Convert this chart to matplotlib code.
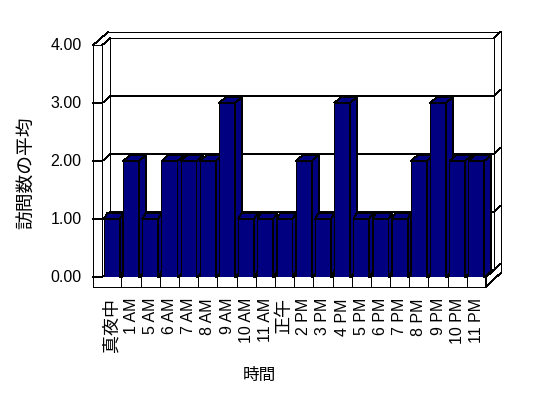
import matplotlib
matplotlib.use('Agg')
import matplotlib.pyplot as plt
from matplotlib.lines import Line2D
from matplotlib.patches import Polygon
from matplotlib.transforms import IdentityTransform, offset_copy

plt.rcParams['font.family'] = ['Liberation Sans', 'Noto Sans CJK JP', 'DejaVu Sans']

# data
hours = ['真夜中', '1 AM', '5 AM', '6 AM', '7 AM', '8 AM', '9 AM', '10 AM', '11 AM', '正午',
         '2 PM', '3 PM', '4 PM', '5 PM', '6 PM', '7 PM', '8 PM', '9 PM', '10 PM', '11 PM']
visits = [1, 2, 1, 2, 2, 2, 3, 1, 1, 1, 2, 1, 3, 1, 1, 1, 2, 3, 2, 2]
y_ticks = [0, 1, 2, 3, 4]
y_ticklabels = ['0.00', '1.00', '2.00', '3.00', '4.00']

W, H = 548, 398
NAVY = '#000080'
LW = 0.55

fig = plt.figure(figsize=(W / 100, H / 100), dpi=100)
fig.patch.set_facecolor('white')
# axes = front plane of the 3d box
ax = fig.add_axes([102.3 / W, (H - 277) / H, 383.7 / W, 232 / H])
ax.set_xlim(-0.5, len(hours) - 0.5)
ax.set_ylim(0, 4)
ax.axis('off')

xl, xr = -0.5, len(hours) - 0.5
top = y_ticks[-1]

# pixel offsets of the 3d walls
BX, BY = 8, 7        # back wall (front side)
RX, RY = 14.5, 13.3  # back wall (rear side)
WT = 9               # left wall thickness
SL = 9.5             # floor slab thickness


def pt(x, y, dx=0, dy=0):
    px, py = ax.transData.transform((x, y))
    return (px + dx, py + dy)


def line(*pts, z=1):
    ax.add_line(Line2D([p[0] for p in pts], [p[1] for p in pts], transform=IdentityTransform(),
                       color='black', lw=LW, clip_on=False, zorder=z, antialiased=False))


def face(pts, z=3):
    ax.add_patch(Polygon(pts, closed=True, transform=IdentityTransform(), facecolor=NAVY,
                         edgecolor='black', lw=LW, clip_on=False, zorder=z, antialiased=False))


# left wall
line(pt(xl, top, -WT), pt(xl, 0, -WT, -SL))
line(pt(xl, top), pt(xl, 0))
line(pt(xl, top, -WT), pt(xl, top))
line(pt(xl, top, -WT), pt(xl, top, 6, RY))
line(pt(xl, top), pt(xl, top, BX, BY))
# back wall
line(pt(xl, top, BX, BY), pt(xr, top, BX, BY))
line(pt(xl, top, 6, RY), pt(xr, top, RX, RY))
line(pt(xl, top, BX, BY), pt(xl, 0, BX, BY))
line(pt(xr, top, BX, BY), pt(xr, 0, BX, BY))
line(pt(xr, top, BX, BY), pt(xr, top, RX, RY))
line(pt(xr, top, RX, RY), pt(xr, 0, RX, RY - SL))
# gridlines
for v in y_ticks[:-1]:
    line(pt(xl, v, -WT), pt(xl, v), pt(xl, v, BX, BY), pt(xr, v, BX, BY), pt(xr, v, RX, RY))
# floor slab
line(pt(xl, 0, -WT, -SL), pt(xr, 0, 0, -SL))
line(pt(xr, 0), pt(xr, 0, 0, -SL), pt(xr, 0, RX, RY - SL))
line(pt(xr, 0), pt(xr, 0, BX, BY))
for k in range(1, len(hours)):
    line(pt(k - 0.5, 0), pt(k - 0.5, 0, 0, -SL))
for k in range(len(hours)):
    line(pt(k - 0.5, 0), pt(k - 0.5, 0, BX, BY))

# bars, drawn left to right so each front hides the previous side
bw = 0.83
for i, v in enumerate(visits):
    ax.bar(i, v, width=bw, color=NAVY, edgecolor='black', lw=LW, zorder=3, antialiased=False)
    x0, x1 = i - bw / 2, i + bw / 2
    dx, dy = 3.5 * min(v, 2), 6
    face([pt(x1, 0), pt(x1, v), pt(x1, v, dx, dy), pt(x1, 0, dx, dy)])
    face([pt(x0, v), pt(x1, v), pt(x1, v, dx, dy), pt(x0, v, dx, dy)])

# tick labels
ytr = offset_copy(ax.transData, fig, x=-20.6, y=0, units='dots')
for v, lab in zip(y_ticks, y_ticklabels):
    ax.text(xl, v, lab, transform=ytr, ha='right', va='center', fontsize=11.5)
xtr = offset_copy(ax.transData, fig, x=0, y=-21, units='dots')
for i, lab in enumerate(hours):
    size = 11.5 if lab.isascii() else 13
    ax.text(i, 0, lab, transform=xtr, rotation=90, ha='center', va='top', fontsize=size)

fig.text(259 / W, 1 - 375 / H, '時間', ha='center', va='center', fontsize=12)
fig.text(28 / W, 1 - 173 / H, '訪問数の平均', ha='center', va='center', rotation=90, fontsize=13.5)

fig.savefig('out.png', dpi=100, facecolor='white')
